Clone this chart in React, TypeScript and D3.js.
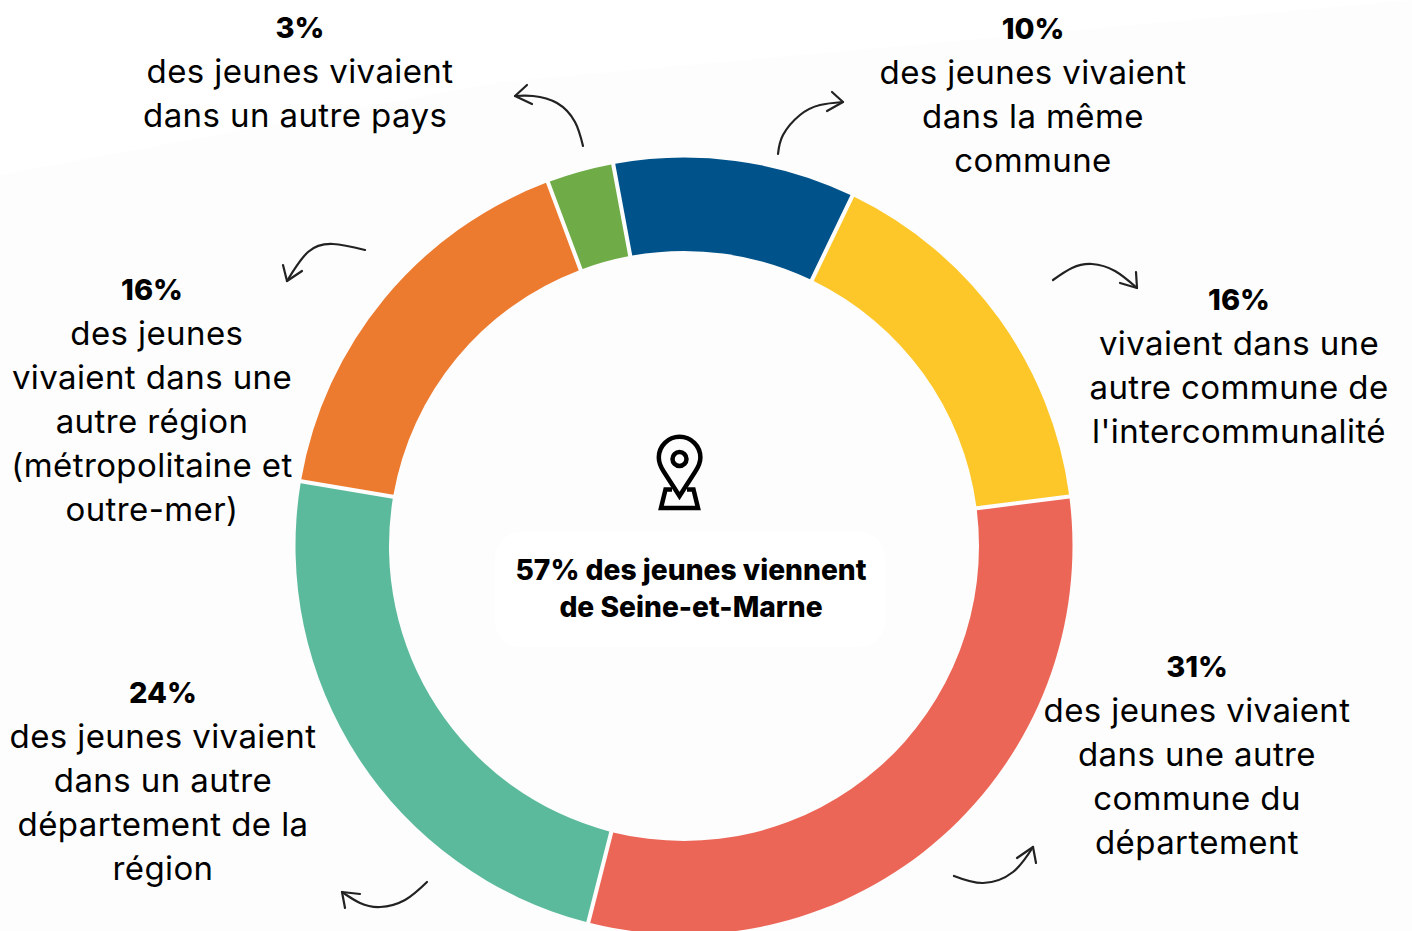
import * as d3 from "d3";

const WIDTH = 1412;
const HEIGHT = 931;

// slice sizes as measured on the ring, clockwise from the blue slice
const slices = ["commune", "intercommunalite", "departement", "region", "autreRegion", "pays"];
const shares = [10.05, 15.83, 31, 23.7, 16.64, 2.78];
const colors = ["#00538A", "#FDC72A", "#EC6657", "#5CBA9C", "#EC7B30", "#6FAB46"];

const percentLabels = ["10%", "16%", "31%", "24%", "16%", "3%"];
const textLines = [
  ["des jeunes vivaient", "dans la même", "commune"],
  ["vivaient dans une", "autre commune de", "l'intercommunalité"],
  ["des jeunes vivaient", "dans une autre", "commune du", "département"],
  ["des jeunes vivaient", "dans un autre", "département de la", "région"],
  ["\u00a0des jeunes", "vivaient dans une", "autre région", "(métropolitaine et", "outre-mer)"],
  ["des jeunes vivaient", "dans un autre pays\u00a0"],
];
const labelAnchors = [
  [1033, 40],
  [1239, 311],
  [1197, 678],
  [163, 704],
  [152, 301],
  [300, 39],
];

const centerLines = ["57% des jeunes viennent", "de Seine-et-Marne"];

// hand drawn arrows: curve points, then the two strokes of the head
const arrowCurves = [
  [[778, 154], [783, 135], [800, 115], [820, 105], [843, 102]],
  [[1053, 280], [1072, 268], [1092, 264], [1115, 271], [1137, 288]],
  [[954, 876], [983, 883], [1013, 872], [1033, 847]],
  [[427, 882], [405, 900], [380, 907], [360, 903], [342, 892]],
  [[365, 250], [333, 244], [308, 252], [287, 281]],
  [[583, 146], [575, 122], [557, 103], [533, 96], [515, 96]],
];
const arrowHeads = [
  [[832, 92], [843, 102], [827, 111]],
  [[1136, 272], [1137, 288], [1120, 283]],
  [[1017, 858], [1033, 847], [1036, 863]],
  [[360, 894], [342, 892], [345, 908]],
  [[283, 265], [287, 281], [302, 271]],
  [[527, 85], [515, 96], [532, 104]],
];

const FONT = "Inter, 'Noto Sans', sans-serif";
const cx = 684;
const cy = 546;

export default function App() {
  const pie = d3
    .pie<number>()
    .sort(null)
    .startAngle((-10.5 * Math.PI) / 180)
    .endAngle((349.5 * Math.PI) / 180);
  const arc = d3
    .arc<d3.PieArcDatum<number>>()
    .innerRadius(295)
    .outerRadius(388.5)
    .padAngle(0.0105)
    .padRadius(388);
  const curve = d3.line().curve(d3.curveNatural);
  const head = d3.line();

  return (
    <svg
      width={WIDTH}
      height={HEIGHT}
      style={{ position: "absolute", left: 0, top: 0, background: "#fff" }}
    >
      {/* faint off-white backdrop, cut diagonally at top left */}
      <path d="M0 175 L500 82 L1412 0 L1412 931 L0 931 Z" fill="#fdfdfd" />

      <g transform={`translate(${cx},${cy})`}>
        {pie(shares).map((d, i) => (
          <path key={slices[i]} d={arc(d) ?? ""} fill={colors[i]} />
        ))}
      </g>

      {arrowCurves.map((pts, i) => (
        <g key={i} fill="none" stroke="#222" strokeWidth={2.2} strokeLinecap="round" strokeLinejoin="round">
          <path d={curve(pts as [number, number][]) ?? ""} />
          <path d={head(arrowHeads[i] as [number, number][]) ?? ""} />
        </g>
      ))}

      {/* location pin */}
      <g fill="none" stroke="#000" strokeWidth={4.5} strokeLinejoin="miter">
        <path d="M679.5 496 L664 472 C660 466 658.8 462 658.8 457.5 A20.8 20.8 0 0 1 700.4 457.5 C700.4 462 699 466 695 472 Z" />
        <circle cx={679.5} cy={459} r={7} />
        <path d="M672 489.5 L665.5 489.5 L661 508 L698 508 L693.5 489.5 L687 489.5" />
      </g>

      <rect x={495} y={532} width={390} height={115} rx={26} fill="#fff" />
      <g fontFamily={FONT} fontWeight={800} fontSize={28.2} textAnchor="middle" fill="#000">
        {centerLines.map((line, i) => (
          <text key={line} x={691} y={580 + i * 37}>
            {line}
          </text>
        ))}
      </g>

      {percentLabels.map((label, i) => {
        const [x, y] = labelAnchors[i];
        return (
          <g key={slices[i]} fontFamily={FONT} textAnchor="middle" fill="#000">
            <text x={x} y={y - 1} fontSize={29} fontWeight={800}>
              {label}
            </text>
            {textLines[i].map((line, j) => (
              <text key={line} x={x} y={y + 44 * (j + 1)} fontSize={33} letterSpacing={0.4} fontWeight={400}>
                {line}
              </text>
            ))}
          </g>
        );
      })}
    </svg>
  );
}
